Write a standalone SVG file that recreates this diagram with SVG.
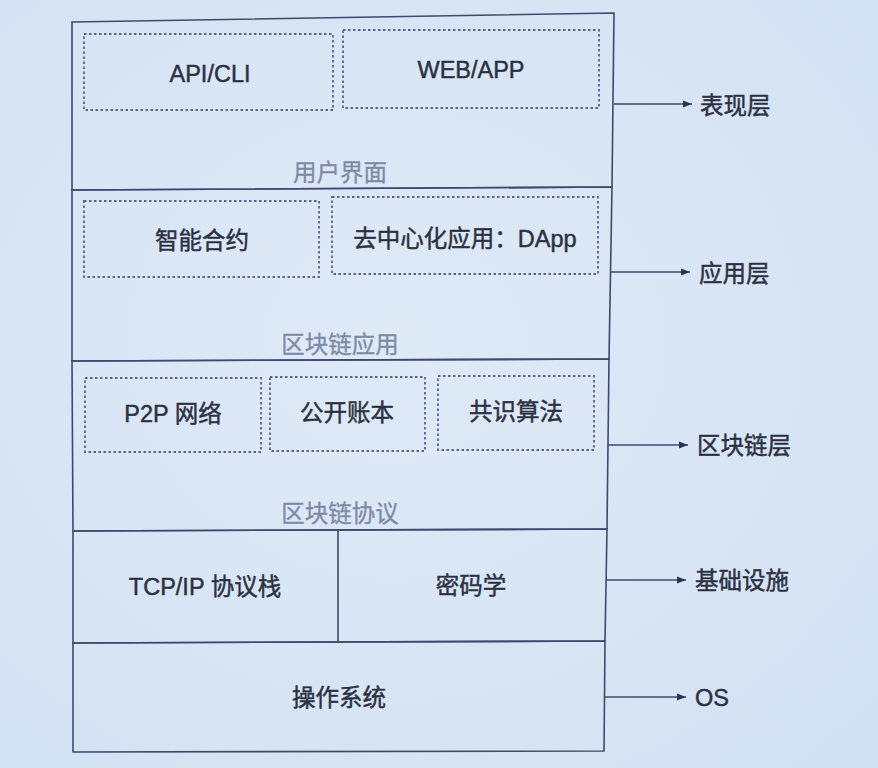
<svg xmlns="http://www.w3.org/2000/svg" width="878" height="768" viewBox="0 0 878 768">
<defs>
<radialGradient id="bg" cx="0.45" cy="0.45" r="0.75">
<stop offset="0" stop-color="#dfeaf7"/>
<stop offset="1" stop-color="#d2e1f2"/>
</radialGradient>
<marker id="arr" viewBox="0 0 10 10" refX="10" refY="5" markerWidth="9" markerHeight="9" markerUnits="userSpaceOnUse" orient="auto">
<path d="M0,1 L10,5 L0,9 Z" fill="#2c3550"/>
</marker>
</defs>
<style>
.solid{fill:none;stroke:#3d4a6e;stroke-width:1.6}
.dash{fill:none;stroke:#56648a;stroke-width:1.8;stroke-dasharray:2.5 2.5}
.t{font-family:"Liberation Sans","Noto Sans CJK SC",sans-serif;font-size:23.5px;fill:#2b3142;stroke:#2b3142;stroke-width:0.45;text-anchor:middle;dominant-baseline:central}
.sec{font-family:"Liberation Sans","Noto Sans CJK SC",sans-serif;font-size:23.5px;fill:#7d8aa6;stroke:#7d8aa6;stroke-width:0.3;text-anchor:middle;dominant-baseline:central}
.side{font-family:"Liberation Sans","Noto Sans CJK SC",sans-serif;font-size:23.5px;fill:#2b3142;stroke:#2b3142;stroke-width:0.45;dominant-baseline:central}
.conn{fill:none;stroke:#3d4a6e;stroke-width:1.5}
</style>
<rect width="878" height="768" fill="url(#bg)"/>
<g id="layer-ui">
<polygon class="solid" points="72,22 614,13 612,187 72,190"/>
<rect class="dash" x="84" y="34" width="249" height="76"/>
<text class="t" x="210" y="74">API/CLI</text>
<rect class="dash" x="343" y="30" width="256" height="78"/>
<text class="t" x="471" y="70">WEB/APP</text>
<text class="sec" x="340" y="173">用户界面</text>
</g>
<g id="layer-app">
<polygon class="solid" points="72,190 612,187 609,359 72,361"/>
<rect class="dash" x="84" y="201" width="235" height="76"/>
<text class="t" x="202" y="241">智能合约</text>
<rect class="dash" x="332" y="197" width="266" height="77"/>
<text class="t" x="465" y="239">去中心化应用：DApp</text>
<text class="sec" x="340" y="345">区块链应用</text>
</g>
<g id="layer-chain">
<polygon class="solid" points="72,361 609,359 607,529 73,531"/>
<rect class="dash" x="85" y="378" width="176" height="74"/>
<text class="t" x="173" y="414">P2P 网络</text>
<rect class="dash" x="270" y="377" width="155" height="74"/>
<text class="t" x="347" y="413">公开账本</text>
<rect class="dash" x="438" y="376" width="156" height="74"/>
<text class="t" x="516" y="412">共识算法</text>
<text class="sec" x="340" y="514">区块链协议</text>
</g>
<g id="layer-infra">
<polygon class="solid" points="73,531 607,529 605,641 73,643"/>
<line class="solid" x1="338" y1="531" x2="338" y2="642"/>
<text class="t" x="205" y="587">TCP/IP 协议栈</text>
<text class="t" x="471" y="586">密码学</text>
</g>
<g id="layer-os">
<polygon class="solid" points="73,643 605,641 604,751 73,752"/>
<text class="t" x="339" y="698">操作系统</text>
</g>
<g id="connectors">
<line class="conn" x1="614" y1="104" x2="692" y2="104" marker-end="url(#arr)"/>
<line class="conn" x1="611" y1="272" x2="690" y2="272" marker-end="url(#arr)"/>
<line class="conn" x1="608" y1="445" x2="688" y2="445" marker-end="url(#arr)"/>
<line class="conn" x1="606" y1="580" x2="686" y2="580" marker-end="url(#arr)"/>
<line class="conn" x1="604" y1="697" x2="686" y2="697" marker-end="url(#arr)"/>
</g>
<g id="side-labels">
<text class="side" x="700" y="106">表现层</text>
<text class="side" x="699" y="274">应用层</text>
<text class="side" x="697" y="446">区块链层</text>
<text class="side" x="695" y="581">基础设施</text>
<text class="side" x="695" y="698">OS</text>
</g>
</svg>
